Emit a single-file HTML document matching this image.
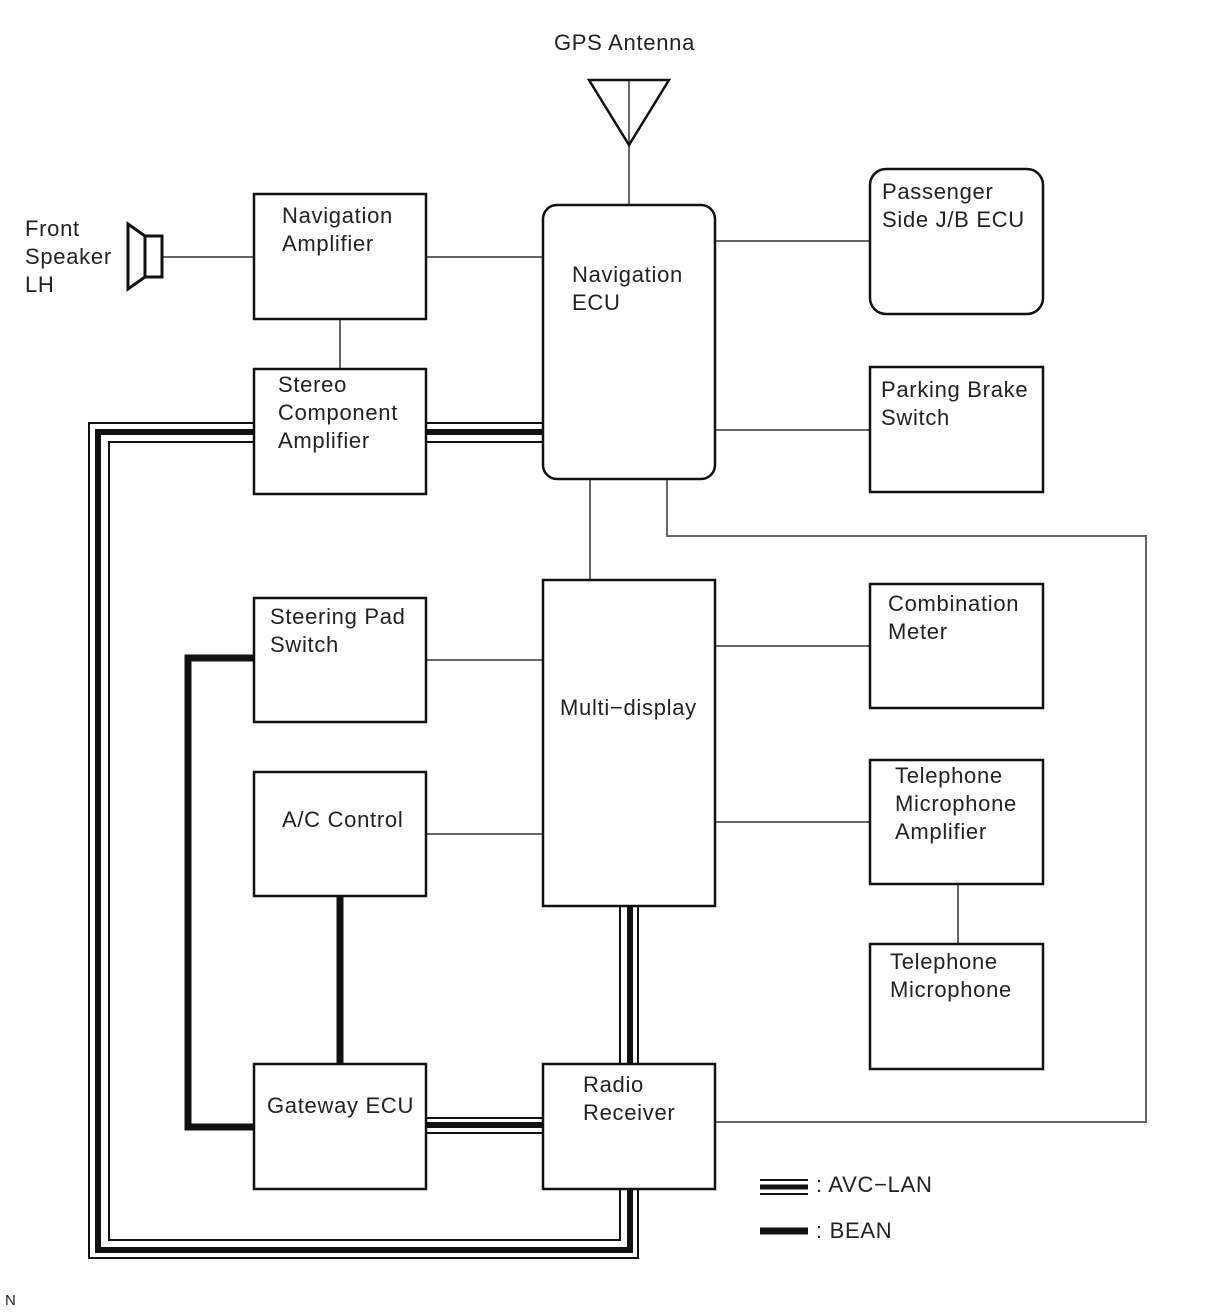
<!DOCTYPE html>
<html><head><meta charset="utf-8"><style>
html,body{margin:0;padding:0;background:#fff;}
svg{display:block;}
text{font-family:"Liberation Sans",sans-serif;font-size:22px;letter-spacing:0.7px;fill:#222;}
</style></head><body>
<svg width="1212" height="1312" viewBox="0 0 1212 1312" xmlns="http://www.w3.org/2000/svg">
<g stroke="#666" stroke-width="2" fill="none">
<line x1="629" y1="80" x2="629" y2="205"/>
<line x1="162" y1="257" x2="254" y2="257"/>
<line x1="426" y1="257" x2="543" y2="257"/>
<line x1="340" y1="319" x2="340" y2="369"/>
<line x1="715" y1="241" x2="870" y2="241"/>
<line x1="715" y1="430" x2="870" y2="430"/>
<line x1="590" y1="479" x2="590" y2="580"/>
<polyline points="667,479 667,536 1146,536 1146,1122 715,1122"/>
<line x1="426" y1="660" x2="543" y2="660"/>
<line x1="426" y1="834" x2="543" y2="834"/>
<line x1="715" y1="646" x2="870" y2="646"/>
<line x1="715" y1="822" x2="870" y2="822"/>
<line x1="958" y1="884" x2="958" y2="944"/>
</g>
<g fill="none" stroke="#111">
<polyline stroke-width="2" points="254,423 89,423 89,1258 638,1258 638,1189"/>
<polyline stroke-width="6" points="254,432 98,432 98,1250 630,1250 630,1189"/>
<polyline stroke-width="2" points="254,442 109,442 109,1240 620,1240 620,1189"/>
<line stroke-width="2" x1="426" y1="423" x2="543" y2="423"/>
<line stroke-width="6" x1="426" y1="432" x2="543" y2="432"/>
<line stroke-width="2" x1="426" y1="442" x2="543" y2="442"/>
<line stroke-width="2" x1="620" y1="906" x2="620" y2="1064"/>
<line stroke-width="6" x1="630" y1="906" x2="630" y2="1064"/>
<line stroke-width="2" x1="638" y1="906" x2="638" y2="1064"/>
<line stroke-width="2" x1="426" y1="1118" x2="543" y2="1118"/>
<line stroke-width="6" x1="426" y1="1125" x2="543" y2="1125"/>
<line stroke-width="2" x1="426" y1="1133" x2="543" y2="1133"/>
<line stroke-width="2" x1="760" y1="1180" x2="808" y2="1180"/>
<line stroke-width="5" x1="760" y1="1187" x2="808" y2="1187"/>
<line stroke-width="2" x1="760" y1="1194" x2="808" y2="1194"/>
<polyline stroke-width="7" points="254,658 188,658 188,1127 254,1127"/>
<line stroke-width="7" x1="340" y1="896" x2="340" y2="1064"/>
<line stroke-width="7" x1="760" y1="1231" x2="808" y2="1231"/>
</g>
<g fill="#fff" stroke="#111" stroke-width="2.5">
<rect x="254" y="194" width="172" height="125"/>
<rect x="254" y="369" width="172" height="125"/>
<rect x="543" y="205" width="172" height="274" rx="14"/>
<rect x="870" y="169" width="173" height="145" rx="16"/>
<rect x="870" y="367" width="173" height="125"/>
<rect x="543" y="580" width="172" height="326"/>
<rect x="254" y="598" width="172" height="124"/>
<rect x="254" y="772" width="172" height="124"/>
<rect x="870" y="584" width="173" height="124"/>
<rect x="870" y="760" width="173" height="124"/>
<rect x="870" y="944" width="173" height="125"/>
<rect x="254" y="1064" width="172" height="125"/>
<rect x="543" y="1064" width="172" height="125"/>
<polygon points="589,80 669,80 629,145" fill="none"/>
<polygon points="128,224 145,236 145,277 128,289" fill="none" stroke-width="3"/>
<rect x="145" y="236" width="17" height="41" fill="none" stroke-width="3"/>
</g>
<text x="554" y="50">GPS Antenna</text>
<text x="25" y="236">Front</text><text x="25" y="264">Speaker</text><text x="25" y="292">LH</text>
<text x="282" y="223">Navigation</text><text x="282" y="251">Amplifier</text>
<text x="278" y="392">Stereo</text><text x="278" y="420">Component</text><text x="278" y="448">Amplifier</text>
<text x="572" y="282">Navigation</text><text x="572" y="310">ECU</text>
<text x="882" y="199">Passenger</text><text x="882" y="227">Side J/B ECU</text>
<text x="881" y="397">Parking Brake</text><text x="881" y="425">Switch</text>
<text x="270" y="624">Steering Pad</text><text x="270" y="652">Switch</text>
<text x="560" y="715">Multi−display</text>
<text x="888" y="611">Combination</text><text x="888" y="639">Meter</text>
<text x="282" y="827">A/C Control</text>
<text x="895" y="783">Telephone</text><text x="895" y="811">Microphone</text><text x="895" y="839">Amplifier</text>
<text x="890" y="969">Telephone</text><text x="890" y="997">Microphone</text>
<text x="267" y="1113">Gateway ECU</text>
<text x="583" y="1092">Radio</text><text x="583" y="1120">Receiver</text>
<text x="816" y="1192">: AVC−LAN</text>
<text x="816" y="1238">: BEAN</text>
<text x="5" y="1305" style="font-size:15px;letter-spacing:0">N</text>
</svg>
</body></html>
